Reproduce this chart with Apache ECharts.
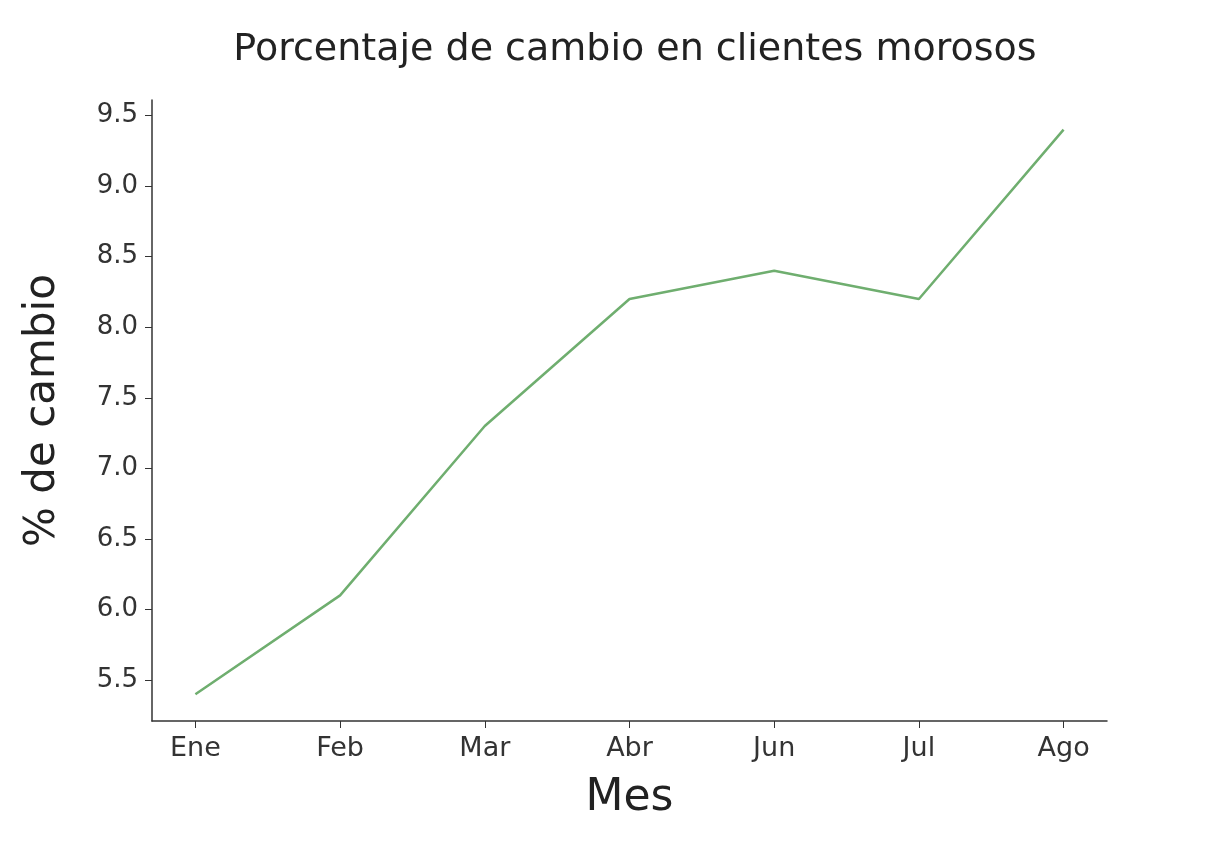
<!DOCTYPE html>
<html>
<head>
<meta charset="utf-8">
<script src="https://cdn.jsdelivr.net/npm/echarts@6/dist/echarts.min.js"></script>
<style>html,body{margin:0;padding:0;background:#fff}#main{width:1232px;height:864px}</style>
</head>
<body>
<div id="main"></div>
<script>
const months = ['Ene', 'Feb', 'Mar', 'Abr', 'Jun', 'Jul', 'Ago'];
const pctChange = [5.4, 6.1, 7.3, 8.2, 8.4, 8.2, 9.4];
const yTicks = [5.5, 6.0, 6.5, 7.0, 7.5, 8.0, 8.5, 9.0, 9.5];

const chart = echarts.init(document.getElementById('main'));
const font = 'DejaVu Sans';
const xIdx = months.map((m, i) => i);

chart.setOption({
  animation: false,
  title: {
    text: 'Porcentaje de cambio en clientes morosos',
    left: 630, top: 26, textAlign: 'center',
    textStyle: { fontFamily: font, fontSize: 38, fontWeight: 'normal', color: '#222' }
  },
  grid: { left: 152, right: 125, top: 100, bottom: 143 },
  xAxis: {
    type: 'value', min: -0.3, max: 6.3,
    name: 'Mes', nameLocation: 'middle', nameGap: 56,
    nameTextStyle: { fontFamily: font, fontSize: 44, color: '#222' },
    splitLine: { show: false },
    axisLine: { onZero: false, lineStyle: { color: '#333', width: 1.5 } },
    axisTick: { show: true, customValues: xIdx, length: 7, lineStyle: { color: '#333' } },
    axisLabel: {
      customValues: xIdx, margin: 14,
      formatter: v => months[Math.round(v)],
      fontFamily: font, fontSize: 27, color: '#333'
    }
  },
  yAxis: {
    type: 'value', min: 5.21, max: 9.61,
    name: '% de cambio', nameLocation: 'middle', nameGap: 88,
    nameTextStyle: { fontFamily: font, fontSize: 42, color: '#222' },
    splitLine: { show: false },
    axisLine: { show: true, onZero: false, lineStyle: { color: '#333', width: 1.5 } },
    axisTick: { show: true, customValues: yTicks, length: 7, lineStyle: { color: '#333' } },
    axisLabel: {
      customValues: yTicks, margin: 14,
      formatter: v => v.toFixed(1),
      fontFamily: font, fontSize: 26, color: '#333'
    }
  },
  series: [{
    type: 'line',
    data: pctChange.map((v, i) => [i, v]),
    showSymbol: false,
    lineStyle: { color: '#6fae6f', width: 2.5 },
    itemStyle: { color: '#6fae6f' }
  }]
});
</script>
</body>
</html>
